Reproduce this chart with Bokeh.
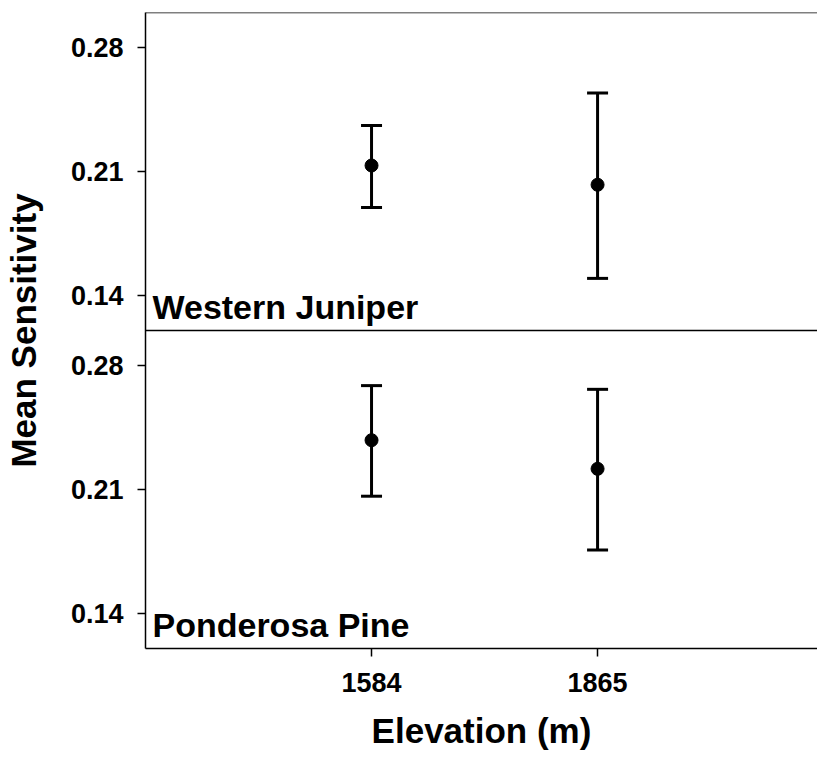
from bokeh.plotting import figure
from bokeh.models import (ColumnDataSource, Range1d, Whisker, TeeHead, Span, Label,
                          FixedTicker, CustomJSTickFormatter)
from bokeh.embed import file_html
from bokeh.resources import INLINE

# ---- data ----
elevations = ["1584", "1865"]
positions = [1, 2]

juniper_mean = [0.2134, 0.2025]
juniper_upper = [0.2361, 0.2544]
juniper_lower = [0.1896, 0.1495]

pine_mean = [0.2379, 0.2217]
pine_upper = [0.2688, 0.2667]
pine_lower = [0.2062, 0.1758]

y_ticks = [0.14, 0.21, 0.28]
panel_names = ["Western Juniper", "Ponderosa Pine"]

# panel value range
vmin, vmax = 0.12, 0.30
span_ = vmax - vmin

FONT = "Liberation Sans"

p = figure(frame_width=672, frame_height=636, output_backend="svg", toolbar_location=None,
           x_range=Range1d(0, 2.973), y_range=Range1d(vmax - 2 * span_, vmax),
           min_border_left=145, min_border_right=0, min_border_top=12, min_border_bottom=111)
p.extra_y_ranges = {"bottom": Range1d(vmin, vmin + 2 * span_)}

p.outline_line_color = None
p.grid.visible = False
p.background_fill_color = "white"
p.border_fill_color = "white"

top_src = ColumnDataSource(dict(x=positions, y=juniper_mean, upper=juniper_upper, lower=juniper_lower))
bot_src = ColumnDataSource(dict(x=positions, y=pine_mean, upper=pine_upper, lower=pine_lower))

for src, rng in ((top_src, "default"), (bot_src, "bottom")):
    w = Whisker(base="x", upper="upper", lower="lower", source=src, dimension="height",
                line_width=3, line_color="black",
                upper_head=TeeHead(size=21, line_width=3, line_color="black"),
                lower_head=TeeHead(size=21, line_width=3, line_color="black"),
                y_range_name=rng)
    p.add_layout(w)
    p.scatter("x", "y", source=src, size=13, color="black", y_range_name=rng)

# borders: top edge and divider
p.add_layout(Span(location=vmax, dimension="width", line_color="black", line_width=1.5))
p.add_layout(Span(location=vmin, dimension="width", line_color="black", line_width=1.5))

# panel labels
p.add_layout(Label(x=0, y=vmin, x_offset=7, y_offset=24, text=panel_names[0],
                   text_font=FONT, text_font_style="bold", text_font_size="34px",
                   text_baseline="alphabetic", text_color="black"))
p.add_layout(Label(x=0, y=vmin, x_offset=7, y_offset=24, text=panel_names[1],
                   text_font=FONT, text_font_style="bold", text_font_size="34px",
                   text_baseline="alphabetic", text_color="black", y_range_name="bottom"))

# y axis: ticks of both panels on one axis
tick_pos = y_ticks + [round(t - span_, 4) for t in y_ticks]
ya = p.yaxis[0]
ya.ticker = FixedTicker(ticks=tick_pos)
ya.formatter = CustomJSTickFormatter(args=dict(vmin=vmin, sp=span_),
                                     code="return (tick < vmin - 1e-9 ? tick + sp : tick).toFixed(2);")
ya.axis_label = "Mean Sensitivity"

xa = p.xaxis[0]
xa.ticker = FixedTicker(ticks=positions)
xa.major_label_overrides = {pos: lab for pos, lab in zip(positions, elevations)}
xa.axis_label = "Elevation (m)"

for ax in (xa, ya):
    ax.axis_line_width = 1.5
    ax.axis_line_color = "black"
    ax.major_tick_line_width = 1.5
    ax.major_tick_line_color = "black"
    ax.major_tick_out = 8
    ax.major_tick_in = 0
    ax.minor_tick_line_color = None
    ax.major_label_text_font = FONT
    ax.major_label_text_font_style = "bold"
    ax.major_label_text_font_size = "27px"
    ax.major_label_text_color = "black"
    ax.axis_label_text_font = FONT
    ax.axis_label_text_font_style = "bold"
    ax.axis_label_text_font_size = "35px"
    ax.axis_label_text_color = "black"

ya.major_label_standoff = 14
ya.axis_label_standoff = 25
xa.major_label_standoff = 16
xa.axis_label_standoff = 16

open("out.html", "w").write(file_html(p, INLINE))
